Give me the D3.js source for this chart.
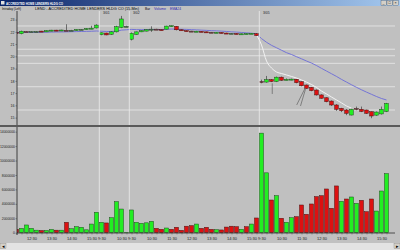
<!DOCTYPE html>
<html><head><meta charset="utf-8">
<script src="https://cdnjs.cloudflare.com/ajax/libs/d3/7.8.5/d3.min.js"></script>
<style>
body{margin:0;background:#c0c0c0;overflow:hidden}
svg{display:block;font-family:"Liberation Sans",Arial,sans-serif}
</style>
</head><body>
<svg id="c" width="400" height="250"></svg>
<script>
// ---- data (15-min bars: 2/28 11:45-15:45, 3/01 9:30-10:45, 3/02 9:30-15:45, 3/05 9:30-15:45)
const openP  = [21.95,21.85,22.02,22.00,22.01,22.06,22.00,22.08,22.14,22.08,22.13,22.12,22.12,22.19,22.20,22.25,22.32,
                21.78,21.90,21.80,22.00,22.35,22.45,
                21.40,21.78,22.00,22.06,22.20,22.22,22.18,22.22,22.45,22.45,22.17,22.10,22.06,22.02,22.04,22.00,21.97,21.93,21.95,21.90,21.86,21.87,21.80,21.83,21.84,21.85,
                17.95,17.90,18.10,17.95,18.30,18.08,18.10,18.13,17.93,17.66,17.47,17.25,16.85,16.62,16.35,16.03,15.76,15.62,15.21,15.75,15.68,15.62,15.48,15.20,15.30,15.50];
const highP  = [22.05,22.10,22.05,22.05,22.05,22.08,22.12,22.16,22.16,22.17,22.62,22.16,22.20,22.22,22.30,22.50,22.62,
                21.95,21.93,22.05,22.50,23.30,22.50,
                21.95,22.02,22.12,22.20,22.45,22.25,22.20,22.50,22.52,22.48,22.20,22.12,22.08,22.08,22.06,22.02,21.99,21.98,21.97,21.93,21.90,21.89,21.86,21.88,21.90,21.90,
                18.10,18.40,18.15,18.35,18.35,18.20,18.18,18.15,17.95,17.70,17.50,17.30,16.90,16.65,16.40,16.10,15.80,15.70,15.72,15.90,15.90,15.65,15.50,15.50,15.90,16.20];
const lowP   = [21.85,21.80,21.98,21.97,21.98,21.98,21.98,22.05,22.06,22.06,22.08,22.08,22.10,22.15,22.18,22.22,22.28,
                21.72,21.72,21.75,21.95,22.30,22.40,
                21.30,21.75,21.98,22.04,22.00,22.18,22.12,22.20,22.40,22.12,22.10,22.04,22.02,22.00,21.98,21.95,21.92,21.90,21.88,21.84,21.83,21.80,21.78,21.80,21.82,21.66,
                17.80,17.85,17.90,17.90,18.00,18.05,18.05,17.80,17.55,17.35,17.15,16.80,16.55,16.25,15.95,15.55,15.45,15.20,15.18,15.60,15.45,15.30,14.95,15.15,15.25,15.45];
const closeP = [21.90,22.05,22.00,22.01,22.02,22.00,22.10,22.14,22.08,22.15,22.12,22.13,22.19,22.20,22.27,22.30,22.55,
                21.92,21.75,22.00,22.42,23.05,22.45,
                21.88,22.00,22.10,22.18,22.22,22.20,22.15,22.47,22.50,22.17,22.12,22.06,22.04,22.05,22.00,21.97,21.94,21.96,21.90,21.86,21.88,21.82,21.84,21.86,21.88,21.70,
                17.93,18.10,17.95,18.30,18.05,18.12,18.14,17.85,17.60,17.39,17.20,16.85,16.58,16.30,16.03,15.68,15.56,15.35,15.68,15.72,15.50,15.35,15.13,15.45,15.68,16.15];
const volume = [0.47,0.60,1.07,0.60,0.35,0.30,0.30,0.45,0.35,0.35,1.44,0.55,0.83,0.75,0.40,1.20,2.83,
                1.44,1.35,2.08,4.30,3.28,0.05,
                3.15,1.44,1.30,1.37,1.58,0.60,0.47,0.65,0.47,0.75,0.33,0.90,0.98,1.20,0.60,0.75,0.47,0.42,0.38,0.78,0.90,0.83,0.47,0.83,1.20,2.04,
                13.8,8.30,4.53,5.13,2.00,1.44,2.08,2.22,3.84,2.55,3.98,5.00,5.13,6.06,3.38,6.48,4.35,4.67,4.95,4.07,4.49,2.91,4.67,3.00,5.78,8.18].map(v=>v*1e6);
const volUp  = [0,1,1,1,1,0,1,1,0,1,0,1,1,1,1,1,1,
                1,0,1,1,1,1,
                1,1,1,1,1,0,0,1,0,0,0,0,0,1,0,0,0,1,0,0,0,0,1,0,1,0,
                1,1,0,1,0,1,1,0,0,0,0,0,0,0,0,0,1,0,1,1,0,0,0,1,1,1];
const ema24  = [21.95,21.95,21.96,21.96,21.96,21.97,21.97,21.98,21.99,21.99,22.00,22.01,22.02,22.03,22.04,22.05,22.07,
                22.05,22.03,22.03,22.06,22.14,22.17,
                22.20,22.18,22.18,22.18,22.19,22.19,22.19,22.21,22.23,22.22,22.21,22.20,22.18,22.16,22.14,22.12,22.10,22.08,22.06,22.03,22.00,21.98,21.95,21.92,21.89,21.84,
                21.45,21.15,20.90,20.70,20.50,20.30,20.15,19.97,19.80,19.62,19.45,19.25,19.02,18.80,18.58,18.36,18.12,17.90,17.68,17.47,17.27,17.08,16.90,16.72,16.56,16.44];
const whiteIdx = [48,49,50,51,52,53,54,55,56,57,58,59,60,61,62,63,64,65,66,67];
const whiteVal = [21.75,20.93,19.62,19.05,18.72,18.60,18.48,18.36,18.23,18.07,17.90,17.70,17.46,17.17,16.93,16.68,16.44,16.20,15.95,15.78];
const levels = [22.48,20.58,20.05,19.43,17.52,15.62];
const dayStart = [17,23,49];
const dayText = ["3/01","3/02","3/05"];
const tickIndex = [3,7,11,15,17,21,23,27,31,35,39,43,47,49,53,57,61,65,69,73];
const tickText = ["12:30","13:30","14:30","15:30","9:30","10:30","9:30","10:30","11:30","12:30","13:30","14:30","15:30","9:30","10:30","11:30","12:30","13:30","14:30","15:30"];
const priceTicks = [15,16,17,18,19,20,21,22,23];
const volTicks = [0,2e6,4e6,6e6,8e6,10e6,12e6,14e6];
const arrows = [[51.15,16.93,51.15,17.80],[56.04,16.03,57.70,17.39],[56.80,15.95,57.80,17.33]];

// ---- layout
const svg = d3.select("#c");
const L=17, R=395, pTop=11, pBot=125, vTop=127, vBot=233;
const x  = d3.scaleLinear().domain([0,74]).range([16.5,386.5]);
const yP = d3.scaleLinear().domain([15,23]).range([117.6,19.6]);
const yV = d3.scaleLinear().domain([0,14e6]).range([232.7,131.7]);
const N = openP.length, idx = d3.range(N);

const defs = svg.append("defs");
const g1 = defs.append("linearGradient").attr("id","tb").attr("x1",0).attr("x2",1);
g1.append("stop").attr("offset",0).attr("stop-color","#0a246a");
g1.append("stop").attr("offset",1).attr("stop-color","#a6caf0");
defs.append("clipPath").attr("id","cp").append("rect").attr("x",L).attr("y",pTop).attr("width",R-L).attr("height",pBot-pTop);
defs.append("clipPath").attr("id","cv").append("rect").attr("x",L).attr("y",vTop).attr("width",R-L).attr("height",vBot-vTop);

svg.append("rect").attr("width",400).attr("height",250).attr("fill","#c0c0c0");

// title bar
svg.append("rect").attr("x",0).attr("y",0).attr("width",400).attr("height",6).attr("fill","url(#tb)");
svg.append("rect").attr("x",1).attr("y",1).attr("width",3.5).attr("height",3.5).attr("fill","#e0e0e0");
svg.append("text").attr("x",6).attr("y",4.6).attr("font-size",3.4).attr("font-weight","bold").attr("fill","#fff")
  .attr("textLength",57).attr("lengthAdjust","spacingAndGlyphs").text("ACCREDITED HOME LENDERS HLDG CO");
[381,387,393].forEach((bx,k)=>{
  svg.append("rect").attr("x",bx).attr("y",0.8).attr("width",5.2).attr("height",4.4).attr("fill","#d4d0c8").attr("stroke","#404040").attr("stroke-width",0.3);
  svg.append("text").attr("x",bx+2.6).attr("y",4.3).attr("font-size",3.6).attr("text-anchor","middle").attr("fill","#000").text(["_","□","×"][k]);
});

// header
const hdr = [["Intraday (Left)",2,19,"#000",3.6],["LEND - ACCREDITED HOME LENDERS HLDG CO (15-Min)",35,104,"#000",3.6],["Bar",145,5,"#000",3.6],["Volume",154,12,"#2a2ab0",3.6],["EMA24",170,11,"#2a2ab0",3.6]];
hdr.forEach(h=>svg.append("text").attr("x",h[1]).attr("y",10.4).attr("font-size",h[4]).attr("fill",h[3])
  .attr("textLength",h[2]).attr("lengthAdjust","spacingAndGlyphs").text(h[0]));

// horizontal level lines
const gp = svg.append("g").attr("clip-path","url(#cp)");
gp.selectAll("line.lv").data(levels).join("line").attr("x1",L).attr("x2",R)
  .attr("y1",d=>yP(d)).attr("y2",d=>yP(d)).attr("stroke","#e8e8e8").attr("stroke-width",0.8);

// day dividers
svg.selectAll("line.dv").data(dayStart).join("line").attr("class","dv")
  .attr("x1",d=>x(d)-2.2).attr("x2",d=>x(d)-2.2).attr("y1",pTop).attr("y2",vBot)
  .attr("stroke","#ececec").attr("stroke-width",0.8);
svg.selectAll("text.dt").data(dayStart).join("text").attr("class","dt")
  .attr("x",d=>x(d)+1.5).attr("y",13.8).attr("font-size",3.4).attr("fill","#202020").text((d,k)=>dayText[k]);

// EMA and white line
gp.append("path").datum(idx).attr("fill","none").attr("stroke","#6b6bd8").attr("stroke-width",0.9)
  .attr("d",d3.line().x(i=>x(i)).y(i=>yP(ema24[i])));
gp.append("path").datum(whiteIdx.map((d,k)=>[d,whiteVal[k]])).attr("fill","none").attr("stroke","#f6f6f6").attr("stroke-width",0.9)
  .attr("d",d3.line().curve(d3.curveMonotoneX).x(d=>x(d[0])).y(d=>yP(d[1])));

// candles
const cg = gp.selectAll("g.cd").data(idx).join("g");
cg.append("line").attr("x1",i=>x(i)).attr("x2",i=>x(i)).attr("y1",i=>yP(highP[i])).attr("y2",i=>yP(lowP[i]))
  .attr("stroke","#2a2a2a").attr("stroke-width",0.6);
cg.append("rect").attr("x",i=>x(i)-1.8).attr("width",3.6)
  .attr("y",i=>Math.min(yP(openP[i]),yP(closeP[i])))
  .attr("height",i=>Math.max(1,Math.abs(yP(openP[i])-yP(closeP[i]))))
  .attr("fill",i=>{const d=closeP[i]-openP[i]; return Math.abs(d)<0.03?"#6a6a6a":(d>0?"#22ee22":"#dd1111");})
  .attr("stroke",i=>closeP[i]>=openP[i]?"#1c4a1c":"#4a1010").attr("stroke-width",0.5);

// annotation arrows
gp.selectAll("line.ar").data(arrows).join("line").attr("x1",d=>x(d[0])).attr("y1",d=>yP(d[1]))
  .attr("x2",d=>x(d[2])).attr("y2",d=>yP(d[3])).attr("stroke","#505050").attr("stroke-width",0.6);

// price axis
const ay = svg.append("g").attr("transform",`translate(${L},0)`)
  .call(d3.axisLeft(yP).tickValues(priceTicks).tickSize(1.5).tickPadding(1).tickFormat(d3.format("d")));
ay.select(".domain").remove();
ay.selectAll("text").attr("font-size",3.6).attr("fill","#202020").attr("font-family","Liberation Sans, Arial");
ay.selectAll("line").attr("stroke","#404040").attr("stroke-width",0.5);

// panel separator
svg.append("rect").attr("x",0).attr("y",125).attr("width",400).attr("height",2).attr("fill","#5a5a5a");

// volume bars
const gv = svg.append("g").attr("clip-path","url(#cv)");
gv.selectAll("rect").data(idx).join("rect").attr("x",i=>x(i)-2).attr("width",4)
  .attr("y",i=>yV(volume[i])).attr("height",i=>Math.max(0.3,yV(0)-yV(volume[i])))
  .attr("fill",i=>volUp[i]?"#22ee22":"#dd1111").attr("stroke",i=>volUp[i]?"#1c4a1c":"#4a1010").attr("stroke-width",0.5);

const av = svg.append("g").attr("transform",`translate(${L},0)`)
  .call(d3.axisLeft(yV).tickValues(volTicks).tickSize(1.5).tickPadding(0.5).tickFormat(d3.format("d")));
av.select(".domain").remove();
av.selectAll("text").attr("font-size",3.4).attr("fill","#202020").attr("font-family","Liberation Sans, Arial");
av.selectAll("line").attr("stroke","#404040").attr("stroke-width",0.5);

// time axis
const ax = svg.append("g").attr("transform",`translate(0,${vBot})`)
  .call(d3.axisBottom(x).tickValues(idx).tickSize(1.5).tickPadding(2.6)
    .tickFormat(i=>{const k=tickIndex.indexOf(i); return k<0?"":tickText[k];}));
ax.select(".domain").remove();
ax.selectAll("text").attr("font-size",4).attr("fill","#202020").attr("font-family","Liberation Sans, Arial");
ax.selectAll("line").attr("stroke","#404040").attr("stroke-width",0.4);

// axis lines
svg.append("line").attr("x1",L).attr("x2",L).attr("y1",pTop).attr("y2",pBot).attr("stroke","#303030").attr("stroke-width",0.9);
svg.append("line").attr("x1",L).attr("x2",L).attr("y1",vTop).attr("y2",vBot+2).attr("stroke","#303030").attr("stroke-width",0.9);
svg.append("line").attr("x1",L).attr("x2",R).attr("y1",vBot).attr("y2",vBot).attr("stroke","#303030").attr("stroke-width",0.8);

// scrollbar
svg.append("rect").attr("x",0).attr("y",243).attr("width",400).attr("height",7).attr("fill","#e2e2e2");
[[0,"◂"],[394,"▸"]].forEach(b=>{
  svg.append("rect").attr("x",b[0]).attr("y",243.3).attr("width",6).attr("height",5.4).attr("fill","#d4d0c8").attr("stroke","#707070").attr("stroke-width",0.3);
  svg.append("text").attr("x",b[0]+3).attr("y",247.6).attr("font-size",4.5).attr("text-anchor","middle").attr("fill","#000").text(b[1]);
});
</script>
</body></html>
